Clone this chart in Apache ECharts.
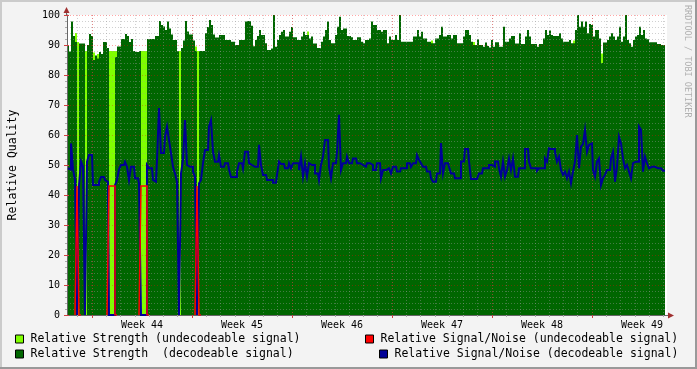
<!DOCTYPE html>
<html><head><meta charset="utf-8">
<script src="https://cdn.jsdelivr.net/npm/echarts@6/dist/echarts.min.js"></script>
<style>html,body{margin:0;padding:0;background:#f3f3f3}#c{width:697px;height:369px}</style>
</head><body><div id="c"></div>
<script>
const _ = null;
// Relative Strength (decodeable signal), one value per sample (300 samples ~ 3.36 h each)
const strengthDecodeable = [
90,87.8,97.8,93,91,_,90.5,90.5,90.5,_,
90,93.7,93,85,86.5,85.5,87.7,87,91,91,
89,_,_,_,86,89.5,89.5,92,92,93.7,
93,91,92,88,87.7,87.7,88,_,_,_,
92,92,92,92,93,93,98,96.7,96.2,95,
97.8,95.5,93.5,91.7,91.7,88,_,89,91.5,98,
94.5,93.5,93.5,91.5,88,_,88,88,88,94,
96,98.3,96.7,93.5,92.5,92.5,93.3,93.3,93.3,91.7,
91.7,91.7,91.1,91.1,90,90,91.7,91.7,91.7,97.8,
98,98,96.4,89.6,91.7,93,95,93.3,93.3,90.6,
88.3,88.3,88.8,100,89.4,91.7,93.3,94.4,95,92.8,
92.8,94.4,96,92.6,92.6,91.7,91.7,92.8,94.4,93.3,
93.3,92.2,92.8,90.5,90.5,89,89,91.1,92.8,95,
97.8,91.7,90.6,90.6,93.3,96.1,99.4,95,95.5,95.5,
93,93,92.6,91.7,91.7,92.6,92.6,91.1,90.6,91.7,
91.7,92.2,97.8,96.7,96.7,95,95,94.4,95,95,
90.6,92.8,91.7,91.7,93.3,91.7,100,91.1,91.1,91.1,
91.1,91.1,91.1,92.8,92.8,95,92.8,94.4,92.2,92.2,
91.1,91.1,90.6,90.6,92.2,92.2,93.3,96.1,92.8,92.8,
93.3,93.3,92.2,93.3,93.3,90.6,90.6,90.6,92.8,95,
95,93.3,91.1,90,90,91.9,90,90,89.4,90.8,
89.7,89.2,91.7,89.4,90.9,90.9,89.4,89.4,96.1,91.1,
91.1,92.2,93,93,90.5,90.5,93.9,90.3,90.3,92.8,
95,92.8,90.3,90.3,90.3,89.4,90.3,90.3,92.2,95,
93.3,94.8,93.3,93,93,93,93.9,92.2,91.1,91.1,
91.1,91.7,90.6,90.6,95,100,96.1,97.8,96.1,97.8,
93.9,97,96.7,92.8,95,95,92.2,84,90.8,90.8,
91.7,92.8,93.9,92.8,91.7,92.8,96.1,91.1,92.8,100,
91.7,90.6,89.4,91.7,92.8,93.3,96.1,93.3,95,92.2,
91.9,90.9,90.9,90.9,90.9,90.3,90.3,90,90,_
];
// Relative Strength (undecodeable signal)
const strengthUndecodeable = [
_,_,_,_,94,91,_,_,_,88,
_,_,_,87.5,_,87,_,_,_,_,
_,88,88,88,88,_,_,_,_,_,
_,_,_,_,_,_,_,88,88,88,
_,_,_,_,_,_,_,_,_,_,
_,_,_,_,_,_,88,_,_,_,
_,_,_,_,89.5,88,_,_,_,_,
_,_,_,_,_,_,_,_,_,_,
_,_,_,_,_,_,_,_,_,_,
_,_,_,_,_,_,_,_,_,_,
_,_,_,_,_,_,_,_,_,_,
_,_,_,_,_,_,_,_,_,_,
94.5,_,_,_,_,_,_,_,_,_,
_,_,_,_,_,_,_,_,_,_,
_,_,_,_,_,_,_,_,_,_,
_,_,_,_,_,_,_,_,_,_,
_,_,_,_,_,_,_,_,_,_,
_,_,_,_,_,_,_,_,_,_,
_,_,91.5,_,_,_,_,_,_,_,
_,_,_,_,_,_,_,_,_,_,
_,_,_,91,_,_,_,_,_,_,
_,_,_,_,_,_,_,_,_,_,
_,_,_,_,_,_,_,_,_,_,
_,_,_,_,_,_,_,_,_,_,
_,_,_,_,_,_,_,_,_,_,
_,_,_,91.5,_,_,_,_,_,_,
_,_,_,_,_,_,_,87.2,_,_
];
// Relative Signal/Noise (decodeable signal)
const snrDecodeable = [
48.9,48.5,57.2,48.6,45,0,43.3,51.1,49.4,0,
51.1,53.3,53.3,43.3,43.3,43.3,44.4,46,46,45,
44.4,0,0,0,43.3,45,48.6,50,50,51.1,
49.4,45,49.4,49.4,45.6,45.6,43.9,0,0,0,
50,48.9,48.9,45,44.4,51.7,69,54,54,59.4,
62.8,58.3,54,49.4,47.2,44.4,0,47.2,51.7,65,
50,49.4,49.4,47.8,46,0,43.9,45,50.6,55,
55,62.8,65,54.4,51.1,51.1,53.3,49.4,49.4,50.6,
50.6,48.6,46,46,46,47.8,50.6,50.6,48.9,54.4,
54.4,50.6,50,49.4,49.4,49.4,56.7,50,46.7,46.7,
45,45,45,44.1,44.1,46.7,51.1,50.3,50.3,48.9,
48.9,50.6,48.9,50.6,50.6,50.6,48.3,52.8,46.1,50.6,
46.1,50.6,50,50,47.2,47.2,45,50,52.8,58.3,
58.3,49.4,45.6,50.6,50.6,54.4,66.7,48.3,50.6,50.6,
52.8,50.6,50.6,52.2,52.2,50.6,50.6,50,49.4,49.4,
50.6,50.6,50,48.3,48.3,50.6,50.6,45.6,48.3,48.3,
48.9,48.9,47.2,49.4,49.4,47.8,47.8,48.9,48.9,48.9,
50.6,50.6,49.4,50.6,50.6,53.3,51.7,50.6,49.4,49.4,
47.8,47.8,45.6,44.4,44.4,47.2,47.2,57.3,47.2,50.6,
50.6,49.4,47.2,47.2,45.6,45.6,45.6,51.2,51.2,55.3,
55.3,51.2,45.3,45.3,45.3,45.3,47.2,47.2,48.9,48.9,
48.9,50,50,49.4,51.2,51.2,48.9,46.1,51.2,46.1,
48.3,52.2,48.3,52.2,46.1,46.1,48.9,48.9,48.9,55.3,
55.3,51.1,48.9,48.9,48.9,48.1,48.9,48.9,48.9,52.2,
51.1,55.6,55.3,55.3,54.4,51.1,52.8,48.3,46.7,47.8,
45.6,47.8,43.9,47.8,51.1,60,48.9,56.1,57,61.7,
54.4,56.7,57.2,48.3,46.1,51.1,52.2,43.3,45.6,46.7,
48.3,48.3,52.2,54.4,44.4,49.4,59.4,57.2,52.2,48.9,
50,47.8,45.6,50.6,51.1,51.1,62.8,61.7,47.8,52.8,
50.6,48.9,49.4,49.4,50,48.9,48.9,48.9,48.1,_
];
// Relative Signal/Noise (undecodeable signal)
const snrUndecodeable = [
_,_,_,_,0,43,0,_,_,_,
_,_,_,_,_,_,_,_,_,_,
0,43,43,43,0,_,_,_,_,_,
_,_,_,_,_,_,0,43,43,43,
0,_,_,_,_,_,_,_,_,_,
_,_,_,_,_,_,_,_,_,_,
_,_,_,_,0,43,0,_,_,_
];
const sampleIndex = strengthDecodeable.map((v, i) => String(i));
// x scale in days across the plot (42 days)
const dayGridDays = Array.from({length: 42}, (v, i) => 0.75 + i);
const weekGridDays = [1.75, 8.75, 15.75, 22.75, 29.75, 36.75];
const weekLabelDays = [5.25, 12.25, 19.25, 26.25, 33.25, 40.25];
const weekLabels = ['Week 44', 'Week 45', 'Week 46', 'Week 47', 'Week 48', 'Week 49'];
const yTicks = {min: 0, max: 100, interval: 10};

const NAME_LG = 'Relative Strength (undecodeable signal)';
const NAME_RED = 'Relative Signal/Noise (undecodeable signal)';
const NAME_DG = 'Relative Strength  (decodeable signal)';
const NAME_BLUE = 'Relative Signal/Noise (decodeable signal)';

const MONO = 'DejaVu Sans Mono';
const minorGrid = 'rgba(150,150,150,0.45)';
const majorGrid = 'rgba(255,0,0,0.35)';
const legendBase = {
  orient: 'horizontal', padding: 0, itemWidth: 8, itemHeight: 8, icon: 'rect', selectedMode: false,
  itemStyle: {borderColor: '#000', borderWidth: 1},
  textStyle: {fontFamily: MONO, fontSize: 11.5, color: '#000', padding: [0, 0, 0, 2]}
};

const chart = echarts.init(document.getElementById('c'), null, {renderer: 'canvas'});
chart.setOption({
  backgroundColor: '#f3f3f3',
  animation: false,
  grid: {left: 67, top: 15, width: 600, height: 300, show: true, backgroundColor: '#ffffff', borderWidth: 0,
         containLabel: false, outerBoundsMode: 'none'},
  legend: [
    Object.assign({}, legendBase, {data: [NAME_LG], left: 15, top: 333}),
    Object.assign({}, legendBase, {data: [NAME_RED], left: 365, top: 333}),
    Object.assign({}, legendBase, {data: [NAME_DG], left: 15, top: 348}),
    Object.assign({}, legendBase, {data: [NAME_BLUE], left: 379, top: 348})
  ],
  xAxis: [
    {type: 'category', position: 'bottom', data: sampleIndex, boundaryGap: true, z: 3,
     axisLine: {show: true, lineStyle: {color: '#666'}}, axisTick: {show: false}, axisLabel: {show: false}, splitLine: {show: false}},
    {type: 'value', position: 'bottom', min: 0, max: 42, z: 3,
     axisLine: {show: false}, axisTick: {show: true, customValues: dayGridDays, length: 2, lineStyle: {color: '#aaa'}},
     axisLabel: {show: false}, splitLine: {show: true, lineStyle: {color: minorGrid, type: [1, 2]}}},
    {type: 'value', position: 'bottom', min: 0, max: 42, z: 3,
     axisLine: {show: false}, axisTick: {show: true, customValues: weekGridDays, length: 3, lineStyle: {color: '#d04040'}},
     axisLabel: {show: true, customValues: weekLabelDays, margin: 5, fontFamily: MONO, fontSize: 10, color: '#000',
       formatter: v => weekLabels[weekLabelDays.indexOf(v)] || ''},
     splitLine: {show: true, lineStyle: {color: majorGrid, type: [1, 2]}}}
  ],
  yAxis: [
    {type: 'value', position: 'left', min: yTicks.min, max: yTicks.max, interval: yTicks.interval, z: 3,
     name: 'Relative Quality', nameLocation: 'middle', nameGap: 48,
     nameTextStyle: {fontFamily: MONO, fontSize: 11.5, color: '#000'},
     axisLine: {show: true, lineStyle: {color: '#666'}},
     axisTick: {show: true, length: 3, lineStyle: {color: '#d04040'}},
     minorTick: {show: true, splitNumber: 5, length: 2, lineStyle: {color: '#aaa'}},
     axisLabel: {fontFamily: MONO, fontSize: 10, color: '#000', margin: 7},
     splitLine: {show: true, lineStyle: {color: majorGrid, type: [1, 2]}},
     minorSplitLine: {show: true, lineStyle: {color: minorGrid, type: [1, 2]}}},
    {type: 'value', position: 'right', min: yTicks.min, max: yTicks.max, interval: yTicks.interval, z: 3,
     axisLine: {show: false}, axisTick: {show: true, length: 2, lineStyle: {color: '#d04040'}},
     axisLabel: {show: false}, splitLine: {show: false}}
  ],
  series: [
    {name: NAME_LG, type: 'bar', xAxisIndex: 0, yAxisIndex: 0, data: strengthUndecodeable, barGap: '-100%', barCategoryGap: '0%',
     itemStyle: {color: '#80ff00'}, z: 1, silent: true},
    {name: NAME_DG, type: 'bar', xAxisIndex: 0, yAxisIndex: 0, data: strengthDecodeable, barGap: '-100%', barCategoryGap: '0%',
     itemStyle: {color: '#006600'}, z: 2, silent: true},
    {name: NAME_BLUE, type: 'line', xAxisIndex: 0, yAxisIndex: 0, data: snrDecodeable, step: 'middle', symbol: 'none',
     lineStyle: {color: '#000096', width: 2, join: 'miter'}, itemStyle: {color: '#000096'}, z: 4, silent: true},
    {name: NAME_RED, type: 'line', xAxisIndex: 0, yAxisIndex: 0, data: snrUndecodeable, step: 'middle', symbol: 'none',
     lineStyle: {color: '#ff0000', width: 1.5, join: 'miter'}, itemStyle: {color: '#ff0000'}, z: 5, silent: true}
  ],
  graphic: [
    {type: 'rect', shape: {x: 0, y: 0, width: 697, height: 2}, style: {fill: '#cbcbcb'}, silent: true},
    {type: 'rect', shape: {x: 0, y: 0, width: 2, height: 369}, style: {fill: '#cbcbcb'}, silent: true},
    {type: 'rect', shape: {x: 0, y: 367, width: 697, height: 2}, style: {fill: '#999999'}, silent: true},
    {type: 'rect', shape: {x: 695, y: 0, width: 2, height: 369}, style: {fill: '#999999'}, silent: true},
    {type: 'line', shape: {x1: 66.5, y1: 15, x2: 66.5, y2: 11}, style: {stroke: '#666', lineWidth: 1}, silent: true},
    {type: 'polygon', shape: {points: [[66.5, 7], [63.5, 13], [69.5, 13]]}, style: {fill: '#a03030'}, silent: true},
    {type: 'line', shape: {x1: 667, y1: 315.5, x2: 669, y2: 315.5}, style: {stroke: '#666', lineWidth: 1}, silent: true},
    {type: 'polygon', shape: {points: [[674, 315.5], [668, 312.5], [668, 318.5]]}, style: {fill: '#a03030'}, silent: true},
    {type: 'text', x: 687.5, y: 5, rotation: -Math.PI / 2, silent: true,
     style: {text: 'RRDTOOL / TOBI OETIKER', font: '8.5px "DejaVu Sans Mono"', fill: '#b0b0b0', align: 'left', verticalAlign: 'middle'}}
  ]
});
</script></body></html>
